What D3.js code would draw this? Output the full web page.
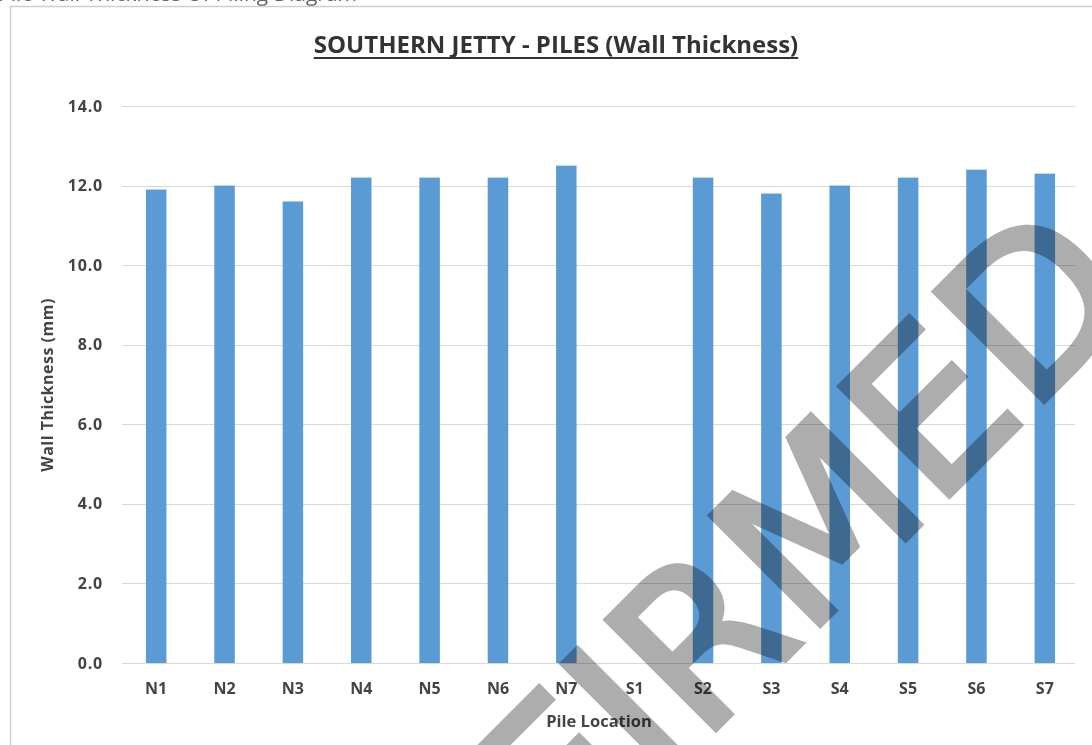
<!DOCTYPE html>
<html>
<head>
<meta charset="utf-8">
<script src="https://cdn.jsdelivr.net/npm/d3@7"></script>
<style>
  html, body { margin: 0; padding: 0; background: #fff; }
  svg { display: block; }
</style>
</head>
<body>
<svg id="chart" width="1092" height="745"></svg>
<script>
// Pile wall thickness readings (mm); S1 has no reading
const piles = ["N1","N2","N3","N4","N5","N6","N7","S1","S2","S3","S4","S5","S6","S7"];
const thickness = [11.9, 12.0, 11.6, 12.2, 12.2, 12.2, 12.5, null, 12.2, 11.8, 12.0, 12.2, 12.4, 12.3];
const yTicks = [0, 2, 4, 6, 8, 10, 12, 14];

const svg = d3.select("#chart");
const W = 1092, H = 745;
const font = "'Open Sans', 'Liberation Sans', sans-serif";

// page heading, partly above the visible area
svg.append("text")
  .attr("x", -2).attr("y", 1)
  .attr("font-family", font).attr("font-size", 21)
  .attr("fill", "#666")
  .text("Pile Wall Thickness Of Piling Diagram");

// chart frame
svg.append("rect")
  .attr("x", 10.5).attr("y", 6.5)
  .attr("width", W + 10).attr("height", H + 10)
  .attr("fill", "#fff").attr("stroke", "#cfcfcf").attr("stroke-width", 1.5);

const m = { left: 122, right: 1079, top: 106, bottom: 663 };

const x = d3.scaleBand().domain(piles).range([m.left, m.right]).paddingInner(0.7).paddingOuter(0.35);
const y = d3.scaleLinear().domain([0, 14]).range([m.bottom, m.top]);

// gridlines
svg.append("g")
  .selectAll("line").data(yTicks).join("line")
  .attr("x1", m.left).attr("x2", m.right - 4)
  .attr("y1", d => Math.round(y(d)) + 0.5).attr("y2", d => Math.round(y(d)) + 0.5)
  .attr("stroke", "#d9d9d9").attr("stroke-width", 1.2);

// y axis labels
const yAxis = d3.axisLeft(y).tickValues(yTicks).tickFormat(d3.format(".1f")).tickSize(0).tickPadding(0);
const gy = svg.append("g").attr("transform", `translate(${m.left - 19},0)`).call(yAxis);
gy.select(".domain").remove();
gy.selectAll("text")
  .attr("font-family", font).attr("font-size", 16).attr("font-weight", 700)
  .attr("letter-spacing", 0.8)
  .attr("fill", "#444");

// bars
svg.append("g")
  .selectAll("rect").data(piles.map((p, i) => ({ p, v: thickness[i] })).filter(d => d.v != null))
  .join("rect")
  .attr("x", d => x(d.p))
  .attr("width", x.bandwidth())
  .attr("y", d => y(d.v))
  .attr("height", d => y(0) - y(d.v))
  .attr("fill", "#5b9bd5");

// x axis labels
const xAxis = d3.axisBottom(x).tickSize(0).tickPadding(0);
const gx = svg.append("g").attr("transform", `translate(0,${m.bottom + 20})`).call(xAxis);
gx.select(".domain").remove();
gx.selectAll("text")
  .attr("dy", "0.71em")
  .attr("font-family", font).attr("font-size", 16).attr("font-weight", 700)
  .attr("fill", "#444");

// title
const title = svg.append("text")
  .attr("x", 556).attr("y", 53)
  .attr("text-anchor", "middle")
  .attr("font-family", font).attr("font-size", 24).attr("font-weight", 700)
  .attr("fill", "#333")
  .text("SOUTHERN JETTY - PILES (Wall Thickness)");
const tb = title.node().getBBox();
svg.append("line")
  .attr("x1", tb.x).attr("x2", tb.x + tb.width)
  .attr("y1", 58).attr("y2", 58)
  .attr("stroke", "#333").attr("stroke-width", 2);

// axis titles
svg.append("text")
  .attr("transform", "translate(53,385) rotate(-90)")
  .attr("text-anchor", "middle")
  .attr("font-family", font).attr("font-size", 16).attr("font-weight", 700)
  .attr("letter-spacing", 0.5)
  .attr("fill", "#444")
  .text("Wall Thickness (mm)");

svg.append("text")
  .attr("x", 599).attr("y", 727)
  .attr("text-anchor", "middle")
  .attr("font-family", font).attr("font-size", 16.5).attr("font-weight", 700)
  .attr("fill", "#444")
  .text("Pile Location");

// stamp across the chart
svg.append("text")
  .attr("transform", "translate(1145,300) rotate(-45)")
  .attr("text-anchor", "end")
  .attr("font-family", "'DejaVu Sans', sans-serif")
  .attr("font-size", 212)
  .attr("fill", "#adadad")
  .attr("stroke", "#adadad").attr("stroke-width", 6).attr("stroke-linejoin", "miter")
  .style("mix-blend-mode", "multiply")
  .text("CONFIRMED");
</script>
</body>
</html>
